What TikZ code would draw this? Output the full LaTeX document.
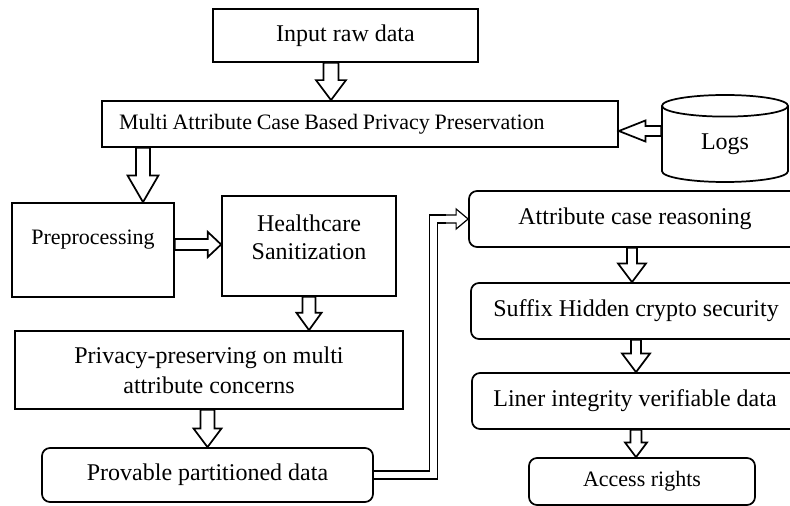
\documentclass[tikz,border=0pt]{standalone}
\usepackage{fontspec}
\setmainfont{Liberation Serif}
\usetikzlibrary{calc,shapes.geometric}

\tikzset{
  arrow shaft/.store in=\arrs, arrow head/.store in=\arrh, arrow len/.store in=\arrl,
  arrow shaft=4.5pt, arrow head=10pt, arrow len=14pt
}
\newcommand{\blockarrow}[3][]{%
  \draw[blockarr,#1] let \p1=#2, \p2=#3, \p3=($#3!\arrl!#2$) in
    ($(\p1)!\arrs!90:(\p2)$) -- ($(\p3)!\arrs!90:(\p2)$) -- ($(\p3)!\arrh!90:(\p2)$) -- (\p2)
    -- ($(\p3)!\arrh!-90:(\p2)$) -- ($(\p3)!\arrs!-90:(\p2)$) -- ($(\p1)!\arrs!-90:(\p2)$) -- cycle;}

\begin{document}
\begin{tikzpicture}[x=0.75pt, y=-0.75pt,
  box/.style = {draw, line width=1.3pt, fill=white, inner sep=0pt, align=center,
    font=\fontsize{18}{22.5}\selectfont},
  rbox/.style = {box, rounded corners=6pt},
  blockarr/.style = {draw, line width=1.3pt, fill=white, line join=miter}]
	\useasboundingbox (0,0) rectangle (790,506);
	\node[box, minimum width=198.75pt, minimum height=39.75pt] (input) at (345.5,35.5) {Input raw data};
	\node[box, minimum width=387pt, minimum height=34.5pt, text width=361.5pt, inner xsep=12.75pt,
		align=left, font=\fontsize{16.5}{20}\selectfont] (maca) at (360,124) {\spaceskip=0.215em\relax Multi Attribute Case Based Privacy Preservation};
	\node[cylinder, shape border rotate=90, aspect=0.45, draw, line width=1.3pt, inner sep=0pt, anchor=shape center,
		minimum width=94.5pt, minimum height=65.25pt, font=\fontsize{18}{22}\selectfont] (logs) at (725,138.5) {Logs};
	\node[box, minimum width=121.5pt, minimum height=70.5pt,
		label={[font=\fontsize{16.5}{20}\selectfont, yshift=7.5pt]center:Preprocessing}] (pre) at (93,250) {};
	\node[box, minimum width=130.5pt, minimum height=75pt,
		label={[font=\fontsize{18}{21}\selectfont, align=center, yshift=6.75pt]center:Healthcare\\Sanitization}] (hs) at (309,246) {};
	\node[box, minimum width=291pt, minimum height=58.5pt] (priv) at (209,370) {Privacy-preserving on multi\\attribute concerns};
	\node[rbox, minimum width=248.25pt, minimum height=40.5pt] (prov) at (207.5,475) {Provable partitioned data};
	\node[rbox, minimum width=249pt, minimum height=42pt] (acr) at (635,219) {Attribute case reasoning};
	\node[rbox, minimum width=247.5pt, minimum height=42pt] (shcs) at (636,311) {Suffix Hidden crypto security};
	\node[rbox, minimum width=244.5pt, minimum height=42pt] (livd) at (635,401) {Liner integrity verifiable data};
	\node[rbox, minimum width=169.5pt, minimum height=35.25pt, font=\fontsize{16.5}{20}\selectfont] (access) at (642,481.5) {Access rights};
	\blockarrow[arrow shaft=5.6pt, arrow head=11.25pt, arrow len=15pt]{(input.south -| 331,0)}{(maca.north -| 331,0)}
	\blockarrow[arrow shaft=3.75pt, arrow head=7.9pt, arrow len=20pt]{(logs.west |- 0,131)}{(maca.east |- 0,131)}
	\blockarrow[arrow shaft=5.25pt, arrow head=11.6pt, arrow len=20pt]{(maca.south -| 143,0)}{(pre.north -| 143,0)}
	\blockarrow[arrow shaft=4.1pt, arrow head=9.4pt, arrow len=10pt]{(pre.east |- 0,244.5)}{(hs.west |- 0,244.5)}
	\blockarrow[arrow shaft=4.9pt, arrow head=9.4pt, arrow len=13pt]{(hs.south)}{(priv.north -| hs.south)}
	\blockarrow[arrow shaft=5.25pt, arrow head=10.5pt]{(priv.south -| prov.north)}{(prov.north)}
	\blockarrow[arrow shaft=3.75pt, arrow head=10.5pt]{(acr.south -| 632,0)}{(shcs.north -| 632,0)}
	\blockarrow[arrow shaft=3.75pt, arrow head=10.5pt]{(shcs.south -| 636,0)}{(livd.north -| 636,0)}
	\blockarrow[arrow shaft=4.1pt, arrow head=8.25pt, arrow len=11pt]{(livd.south -| 636,0)}{(access.north -| 636,0)}
	\blockarrow[line width=0.9pt, arrow shaft=3.05pt, arrow head=7.5pt, arrow len=9pt]{(440,0 |- acr.west)}{(acr.west)}
	\draw[line width=0.9pt, double, double distance=5.2pt] (prov.east) -| (433.5,0 |- acr.west) -- (446,0 |- acr.west);
\end{tikzpicture}
\end{document}
